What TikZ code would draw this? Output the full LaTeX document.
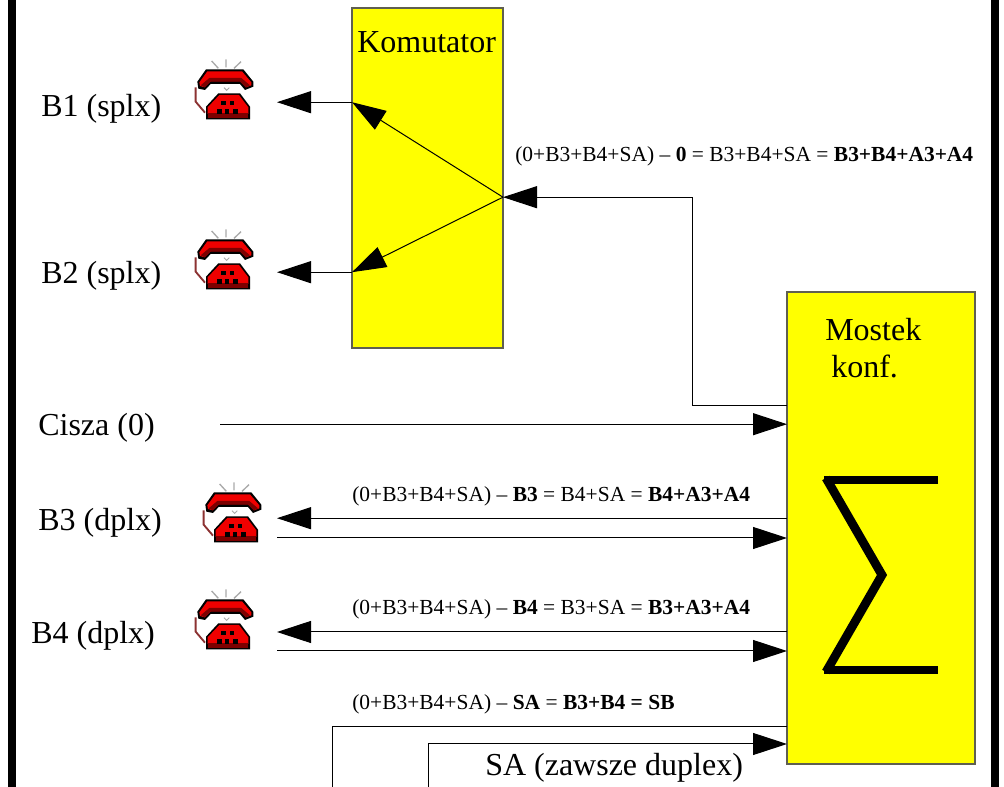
\documentclass[tikz,border=0pt]{standalone}
\usepackage{fontspec}
\setmainfont{Liberation Serif}
\usetikzlibrary{arrows.meta}
\definecolor{boxyellow}{RGB}{255,255,0}
\definecolor{boxedge}{RGB}{95,95,80}
\definecolor{phonered}{RGB}{240,0,0}
\definecolor{phonedark}{RGB}{125,0,0}
\definecolor{cordred}{RGB}{140,50,50}
\definecolor{raygrey}{RGB}{170,170,170}
\tikzset{
  wire/.style={line width=0.75pt,black},
  arrowwire/.style={wire,-{Triangle[length=25.5pt,width=16.5pt]}},
  yellowbox/.style={draw=boxedge,fill=boxyellow,line width=0.9pt,minimum width=0pt,inner sep=0pt},
  biglabel/.style={font=\fontsize{24}{24}\selectfont,anchor=base west,inner sep=0pt},
  smalllabel/.style={font=\fontsize{16.1}{16.1}\selectfont,anchor=base west,inner sep=0pt},
  sigmaline/.style={line width=6pt,black},
  pics/phone/.style={code={
    \begin{scope}[x=0.25pt,y=-0.25pt]
      \draw[raygrey,line width=1pt] (95,33)--(115,55) (138,28)--(138,52) (183,35)--(162,55);
      \draw[raygrey,line width=0.7pt] (132,113)--(140,121)--(148,113);
      \draw[cordred,line width=1.4pt] (47,112)--(47,155)--(75,188);
      \fill[black] (78,58)--(190,58)--(220,95)--(220,110)--(195,120)--(180,102)--(92,102)--(75,120)--(55,116)--(52,95)--cycle;
      \fill[phonered] (82,64)--(186,64)--(214,97)--(214,106)--(198,112)--(180,94)--(92,94)--(74,112)--(60,108)--(58,97)--cycle;
      \fill[phonedark] (88,84)--(184,84)--(210,106)--(198,112)--(180,94)--(92,94)--(74,112)--(62,106)--cycle;
      \fill[black] (115,130)--(180,130)--(210,170)--(210,208)--(78,208)--(78,170)--cycle;
      \fill[phonered] (118,135)--(177,135)--(205,172)--(205,192)--(83,192)--(83,172)--cycle;
      \fill[phonedark] (83,190)--(205,190)--(205,203)--(83,203)--cycle;
      \foreach \kx/\ky in {130/160,155/160,118/185,141/185,166/185}
        \fill[black] (\kx-6.5,\ky-6.5) rectangle (\kx+6.5,\ky+6.5);
    \end{scope}
  }}
}
\begin{document}
\begin{tikzpicture}[x=0.75pt,y=-0.75pt]
\useasboundingbox (0,0) rectangle (1004,787);
\fill[white] (0,0) rectangle (1004,787);
\fill[black] (8,0) rectangle (16,787);
\fill[black] (991,0) rectangle (999,787);

% boxes
\node[yellowbox,minimum width=113.25pt,minimum height=255pt] (kom) at (427.5,178) {};
\node[yellowbox,minimum width=141pt,minimum height=354pt] (mos) at (881,528) {};

% coordinates
\coordinate (hub) at (503,197.2);
\coordinate (k1) at (352,102.2);
\coordinate (k2) at (352,272.2);
\coordinate (p1) at (277,102.2);
\coordinate (p2) at (277,272.2);
\coordinate (mk) at (787,405.2);
\coordinate (bendA) at (692,405.2);
\coordinate (bendB) at (692,197.2);
\coordinate (ciszaS) at (220,424.2);
\coordinate (ciszaE) at (787,424.2);
\coordinate (m3o) at (787,518.2);
\coordinate (p3o) at (277,518.2);
\coordinate (p3i) at (277,538);
\coordinate (m3i) at (787,538);
\coordinate (m4o) at (787,632);
\coordinate (p4o) at (277,632);
\coordinate (p4i) at (277,651);
\coordinate (m4i) at (787,651);
\coordinate (msa) at (787,727);
\coordinate (sa1) at (332,727);
\coordinate (sa2) at (332,787);
\coordinate (sb2) at (428,787);
\coordinate (sb1) at (428,744);
\coordinate (msb) at (787,744);

% connectors
\draw[arrowwire] (mk) -- (bendA) -- (bendB) -- (hub);
\draw[arrowwire] (hub) -- (k1);
\draw[arrowwire] (hub) -- (k2);
\draw[arrowwire] (k1) -- (p1);
\draw[arrowwire] (k2) -- (p2);
\draw[arrowwire] (ciszaS) -- (ciszaE);
\draw[arrowwire] (m3o) -- (p3o);
\draw[arrowwire] (p3i) -- (m3i);
\draw[arrowwire] (m4o) -- (p4o);
\draw[arrowwire] (p4i) -- (m4i);
\draw[wire] (msa) -- (sa1) -- (sa2);
\draw[arrowwire] (sb2) -- (sb1) -- (msb);

% sigma
\draw[sigmaline] (938,480) -- (824,480);
\draw[sigmaline,line width=6.6pt] (826,478) -- (882,575) -- (826,672);
\draw[sigmaline] (824,670) -- (938,670);

% phones
\pic (ph1) at (180,50) {phone};
\pic (ph2) at (180,220) {phone};
\pic (ph3) at (188,473) {phone};
\pic (ph4) at (180,580) {phone};

% labels
\node[biglabel] (tkom) at (357,53) {Komutator};
\node[biglabel] (tb1) at (41,117) {B1 (splx)};
\node[biglabel] (tb2) at (41,284) {B2 (splx)};
\node[biglabel] (tci) at (38,436) {Cisza (0)};
\node[biglabel] (tb3) at (38,531) {B3 (dplx)};
\node[biglabel] (tb4) at (31,644) {B4 (dplx)};
\node[biglabel] (tmo) at (825,341) {Mostek};
\node[biglabel] (tko) at (831,378) {konf.};
\node[biglabel] (tsa) at (485,776) {SA (zawsze duplex)};
\node[smalllabel] (l0) at (515,161.5) {(0+B3+B4+SA) – \textbf{0} = B3+B4+SA = \textbf{B3+B4+A3+A4}};
\node[smalllabel] (l3) at (352,501.5) {(0+B3+B4+SA) – \textbf{B3} = B4+SA = \textbf{B4+A3+A4}};
\node[smalllabel] (l4) at (352,614.5) {(0+B3+B4+SA) – \textbf{B4} = B3+SA = \textbf{B3+A3+A4}};
\node[smalllabel] (lsa) at (352,709.5) {(0+B3+B4+SA) – \textbf{SA} = \textbf{B3+B4 = SB}};
\end{tikzpicture}
\end{document}
